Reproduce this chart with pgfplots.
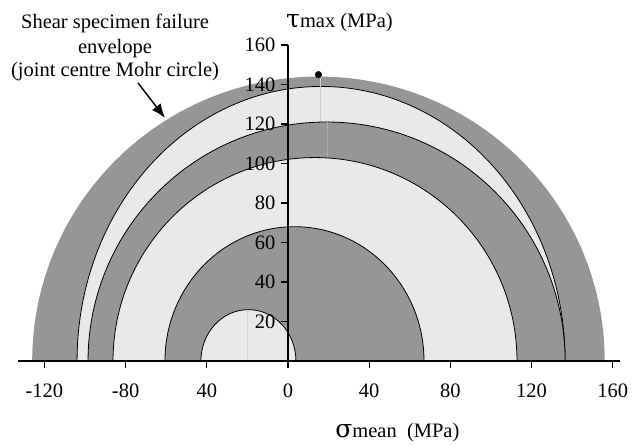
\documentclass[border=0pt]{standalone}
\usepackage{pgfplots}
\pgfplotsset{compat=1.18}
\usetikzlibrary{arrows.meta}
\usepackage{fontspec}
\setmainfont{Liberation Serif}
\newfontfamily\greekfont{DejaVu Serif}
\definecolor{dgray}{RGB}{150,150,150}
\definecolor{lgray}{RGB}{233,233,233}
\newcommand{\chartfont}{\fontsize{20.5}{24}\selectfont}
\begin{document}
\begin{tikzpicture}
\begin{axis}[
  x=2.03pt, y=1.975pt,
  xmin=-133, xmax=163.5, ymin=0, ymax=160,
  axis lines=middle,
  axis line style={-, line width=1.5pt, black},
  axis on top,
  clip=false,
  font=\chartfont,
  /pgf/number format/assume math mode=true,
  xtick={-120,-80,-40,0,40,80,120,160},
  xticklabels={-120,-80,40,0,40,80,120,160},
  ytick={20,40,60,80,100,120,140,160},
  yticklabels={20,40,60,80,100,120,140,160},
  hide obscured x ticks=false,
  hide obscured y ticks=false,
  tick align=outside,
  major tick length=7pt,
  tick style={line width=1.2pt, black},
  xticklabel style={yshift=-12pt},
  yticklabel style={xshift=-2pt},
]
% outer envelope
\fill[dgray] (axis cs:-126,0) arc[start angle=180, end angle=0, x radius=141, y radius=144] -- cycle;
\filldraw[fill=lgray, draw=black, line width=0.8pt] (axis cs:-103.9,0) arc[start angle=180, end angle=0, x radius=120.2, y radius=139] -- cycle;
\filldraw[fill=dgray, draw=black, line width=0.8pt] (axis cs:-98.5,0) arc[start angle=180, end angle=0, x radius=117.5, y radius=121] -- cycle;
\filldraw[fill=lgray, draw=black, line width=0.8pt] (axis cs:-86.2,0) arc[start angle=180, end angle=0, x radius=99.5, y radius=103] -- cycle;
\filldraw[fill=dgray, draw=black, line width=0.8pt] (axis cs:-60.6,0) arc[start angle=180, end angle=0, x radius=63.8, y radius=68] -- cycle;
\filldraw[fill=lgray, draw=black, line width=0.8pt] (axis cs:-42.9,0) arc[start angle=180, end angle=0, x radius=23.4, y radius=26] -- cycle;
% faint seams
\addplot[color={rgb,255:red,205;green,205;blue,205}, line width=0.6pt] coordinates {(16,144) (16,121.5)};
\addplot[color={rgb,255:red,172;green,172;blue,172}, line width=0.6pt] coordinates {(19.5,121) (19.5,103.5)};
\addplot[color={rgb,255:red,218;green,218;blue,218}, line width=0.6pt] coordinates {(-20,25.5) (-20,0)};
% peak point
\addplot[only marks, mark=*, mark size=3.3pt, black] coordinates {(15,145)};
% labels
\node[anchor=base west, inner sep=0pt] at (axis cs:-1,169.1) {{\greekfont\fontsize{25}{25}\selectfont τ}max (MPa)};
\node[anchor=base west, inner sep=0pt] at (axis cs:23.2,-38.5) {{\greekfont\fontsize{25}{25}\selectfont σ}mean\ \ (MPa)};
\node[anchor=base, inner sep=0pt] at (axis cs:-85.2,168.6) {Shear specimen failure};
\node[anchor=base, inner sep=0pt] at (axis cs:-85.2,155.9) {envelope};
\node[anchor=base, inner sep=0pt] at (axis cs:-85.2,143.8) {(joint centre Mohr circle)};
\draw[-{Latex[length=14pt,width=11pt]}, line width=1.5pt] (axis cs:-73.9,140.8) -- (axis cs:-60.6,123.1);
\coordinate (bbsw) at (axis cs:-141.87,-43.04);
\coordinate (bbne) at (axis cs:171.43,182.78);
\end{axis}
\pgfresetboundingbox
\path[use as bounding box] (bbsw) rectangle (bbne);
\end{tikzpicture}
\end{document}
